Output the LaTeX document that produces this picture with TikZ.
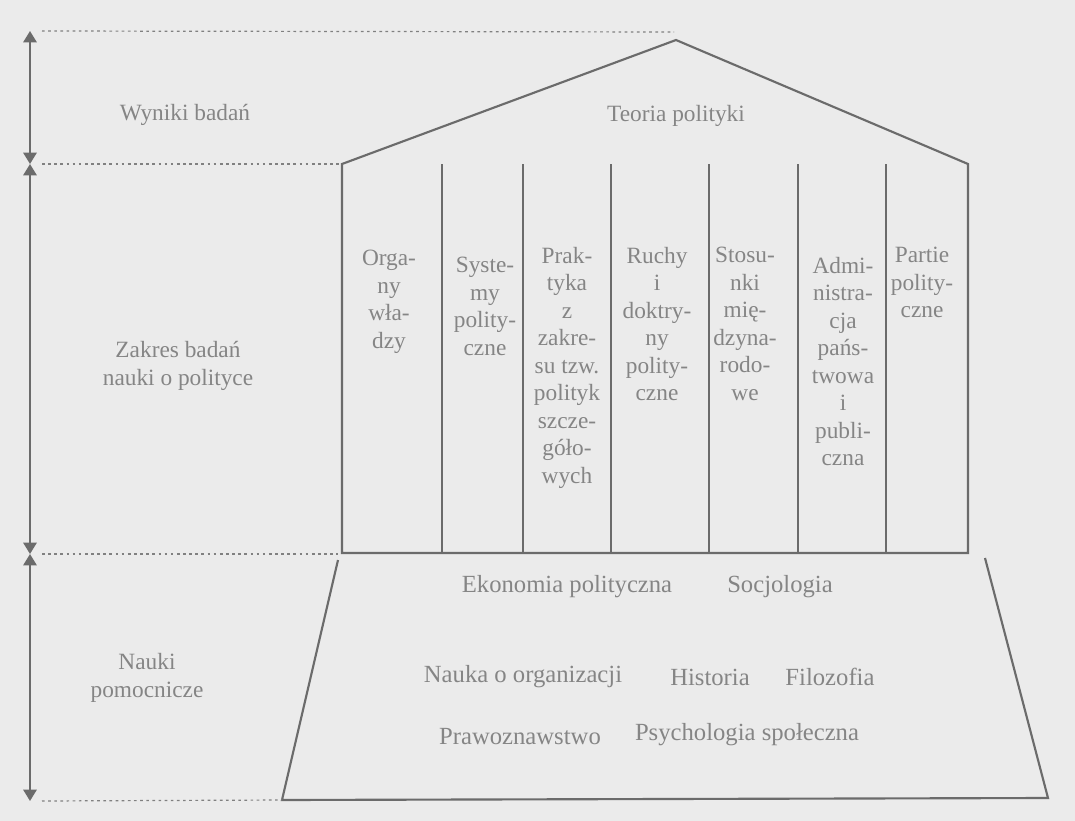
\documentclass[tikz,border=0pt]{standalone}
\usepackage{fontspec}
\setmainfont{Liberation Serif}
\usetikzlibrary{arrows.meta,positioning}

\begin{document}
\begin{tikzpicture}[x=0.75pt,y=-0.75pt,
    house/.style={draw=black!58, line width=1.6pt, line join=miter},
    guide/.style={draw=black!50, line width=0.9pt, dash pattern=on 2pt off 2.6pt},
    span/.style={draw=black!58, line width=1.4pt,
        {Triangle[width=10pt,length=8.5pt]}-{Triangle[width=10pt,length=8.5pt]}},
    lbl/.style={text=black!48, font=\fontsize{17.5}{20.6}\selectfont, align=center, inner sep=0pt},
    aux/.style={lbl, font=\fontsize{18.5}{20.6}\selectfont},
    col/.style={lbl, anchor=north}]
  \fill[black!8] (0,0) rectangle (1075,821);
  \useasboundingbox (0,0) rectangle (1075,821);

  % levels on the axis
  \coordinate (lvTop) at (30,31);
  \coordinate (lvRoof) at (30,164);
  \coordinate (lvCol) at (30,554);
  \coordinate (lvBot) at (30,801);

  % the building
  \coordinate (apex) at (676,40);
  \coordinate (roofL) at (342,164);
  \coordinate (roofR) at (968,164);
  \coordinate (colBL) at (342,553);
  \coordinate (colBR) at (968,553);
  \coordinate (baseTL) at (338,560);
  \coordinate (baseTR) at (985,558);
  \coordinate (baseBL) at (282,800);
  \coordinate (baseBR) at (1048,798);
  \coordinate (topEnd) at (674,32);

  \draw[house] (roofL) -- (apex) -- (roofR) -- (colBR) -- (colBL) -- cycle;
  \draw[house] (442,164) -- (442,553);
  \draw[house] (523,164) -- (523,553);
  \draw[house] (611,164) -- (611,553);
  \draw[house] (709,164) -- (709,553);
  \draw[house] (798,164) -- (798,553);
  \draw[house] (886,164) -- (886,553);
  \draw[house] (baseTL) -- (baseBL) -- (baseBR) -- (baseTR);

  % dotted guides
  \draw[guide] (lvTop) ++(12,0) -- (topEnd);
  \draw[guide] (lvRoof) ++(12,0) -- (roofL);
  \draw[guide] (lvCol) ++(12,0) -- (baseTL |- lvCol);
  \draw[guide] (lvBot) ++(12,0) -- (baseBL);

  % arrows
  \draw[span] (lvTop) -- (lvRoof);
  \draw[span] (lvRoof) -- (lvCol);
  \draw[span] (lvCol) -- (lvBot);

  % labels left
  \node[lbl] (wyniki) at (185,115) {Wyniki badań};
  \node[lbl] (zakres) at (178,366) {Zakres badań\\nauki o polityce};
  \node[lbl] (nauki) at (147,678) {Nauki\\pomocnicze};

  \node[lbl] (teoria) at (676,116) {Teoria polityki};

  % columns
  \node[col] (organy) at (389,250) {Orga-\\ny\\wła-\\dzy};
  \node[col] (systemy) at (485,257) {Syste-\\my\\polity-\\czne};
  \node[col] (praktyka) at (567,247) {Prak-\\tyka\\z\\zakre-\\su tzw.\\polityk\\szcze-\\gó{ł}o-\\wych};
  \node[col] (ruchy) at (657,247) {Ruchy\\i\\doktry-\\ny\\polity-\\czne};
  \node[col] (stosunki) at (745,247) {Stosu-\\nki\\mię-\\dzyna-\\rodo-\\we};
  \node[col] (admin) at (843,257) {Admi-\\nistra-\\cja\\pańs-\\twowa\\i\\publi-\\czna};
  \node[col] (partie) at (922,247) {Partie\\polity-\\czne};

  % base
  \node[aux] (ekonomia) at (567,587) {Ekonomia polityczna};
  \node[aux] (socjologia) at (780,587) {Socjologia};
  \node[aux] (organizacja) at (523,677) {Nauka o organizacji};
  \node[aux] (historia) at (710,677) {Historia};
  \node[aux] (filozofia) at (830,677) {Filozofia};
  \node[aux] (prawo) at (520,737) {Prawoznawstwo};
  \node[aux] (psychologia) at (747,735) {Psychologia społeczna};
\end{tikzpicture}
\end{document}
